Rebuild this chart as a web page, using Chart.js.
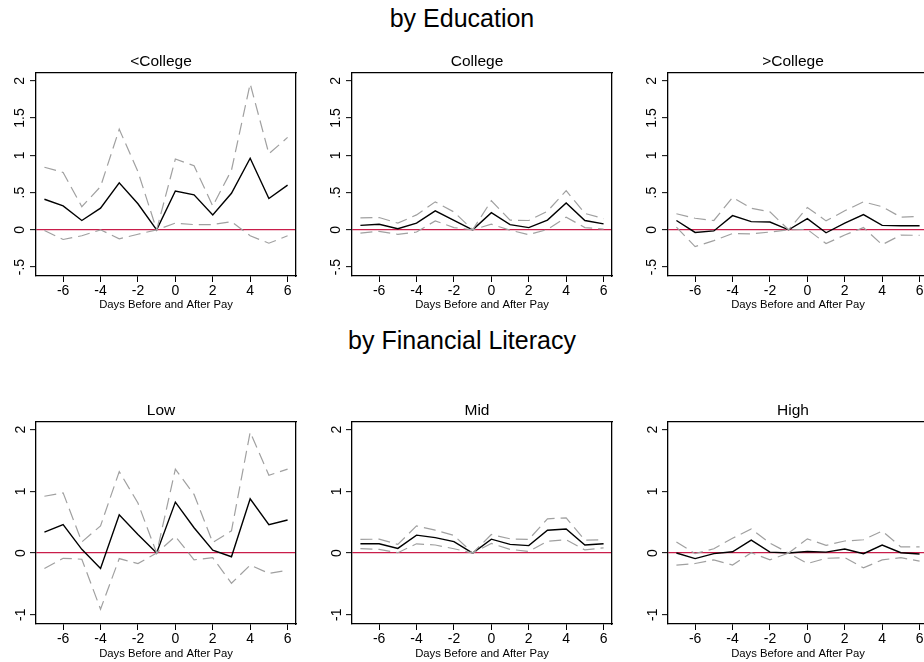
<!DOCTYPE html>
<html>
<head>
<meta charset="utf-8">
<script src="https://cdn.jsdelivr.net/npm/chart.js@4.4.1/dist/chart.umd.min.js"></script>
<style>
  html, body { margin: 0; padding: 0; background: #fff; overflow: hidden; width: 924px; height: 662px; }
  .sec { position: absolute; left: 0; width: 924px; text-align: center; font-family: 'Liberation Sans', Arial, sans-serif; font-size: 25px; line-height: 28px; color: #000; }
  canvas { position: absolute; }
</style>
</head>
<body>
<div class="sec" style="top:4px">by Education</div>
<div class="sec" style="top:326px">by Financial Literacy</div>
<canvas id="c1"></canvas>
<canvas id="c2"></canvas>
<canvas id="c3"></canvas>
<canvas id="c4"></canvas>
<canvas id="c5"></canvas>
<canvas id="c6"></canvas>
<script>
// ---- data ----
const days = [-7, -6, -5, -4, -3, -2, -1, 0, 1, 2, 3, 4, 5, 6];
const xTicks = [-6, -4, -2, 0, 2, 4, 6];
const xTickLabels = ['-6', '-4', '-2', '0', '2', '4', '6'];
const yTicksEdu = [-0.5, 0, 0.5, 1, 1.5, 2];
const yTickLabelsEdu = ['-.5', '0', '.5', '1', '1.5', '2'];
const yTicksLit = [-1, 0, 1, 2];
const yTickLabelsLit = ['-1', '0', '1', '2'];

// <College
const ltCollegeEst = [0.41, 0.32, 0.125, 0.29, 0.63, 0.35, 0, 0.52, 0.47, 0.2, 0.49, 0.96, 0.42, 0.60];
const ltCollegeHi  = [0.84, 0.77, 0.31, 0.58, 1.35, 0.78, 0, 0.95, 0.86, 0.32, 0.80, 1.96, 1.02, 1.24];
const ltCollegeLo  = [-0.01, -0.13, -0.08, 0.0, -0.12, -0.06, 0, 0.09, 0.07, 0.07, 0.11, -0.08, -0.18, -0.08];
// College
const collegeEst = [0.06, 0.075, 0.015, 0.09, 0.255, 0.125, 0, 0.23, 0.07, 0.03, 0.13, 0.36, 0.125, 0.08];
const collegeHi  = [0.16, 0.165, 0.09, 0.2, 0.375, 0.24, 0, 0.39, 0.13, 0.125, 0.25, 0.525, 0.22, 0.15];
const collegeLo  = [-0.045, -0.02, -0.06, -0.03, 0.12, 0.03, 0, 0.075, -0.005, -0.065, 0.005, 0.17, 0.03, 0.01];
// >College
const gtCollegeEst = [0.125, -0.035, -0.015, 0.19, 0.11, 0.105, 0, 0.15, -0.04, 0.09, 0.205, 0.06, 0.055, 0.055];
const gtCollegeHi  = [0.215, 0.155, 0.125, 0.435, 0.29, 0.24, 0, 0.30, 0.12, 0.255, 0.375, 0.31, 0.17, 0.18];
const gtCollegeLo  = [0.035, -0.225, -0.145, -0.05, -0.055, -0.03, 0, 0.005, -0.185, -0.07, 0.03, -0.2, -0.07, -0.075];
// Low
const lowEst = [0.34, 0.46, 0.06, -0.25, 0.62, 0.30, 0, 0.825, 0.41, 0.045, -0.06, 0.88, 0.46, 0.535];
const lowHi  = [0.92, 0.975, 0.18, 0.44, 1.32, 0.81, 0, 1.36, 0.95, 0.17, 0.36, 1.96, 1.26, 1.36];
const lowLo  = [-0.25, -0.085, -0.1, -0.91, -0.09, -0.17, 0, 0.27, -0.11, -0.075, -0.49, -0.195, -0.33, -0.28];
// Mid
const midEst = [0.15, 0.15, 0.075, 0.29, 0.25, 0.185, 0, 0.225, 0.14, 0.12, 0.37, 0.39, 0.13, 0.15];
const midHi  = [0.22, 0.225, 0.14, 0.44, 0.37, 0.285, 0, 0.30, 0.23, 0.22, 0.555, 0.57, 0.21, 0.215];
const midLo  = [0.07, 0.06, 0.005, 0.15, 0.13, 0.07, 0, 0.155, 0.06, 0.025, 0.19, 0.215, 0.05, 0.085];
// High
const highEst = [0, -0.09, -0.01, 0.02, 0.21, 0.015, 0, 0.025, 0.015, 0.065, -0.01, 0.13, 0.005, -0.015];
const highHi  = [0.18, -0.01, 0.07, 0.24, 0.39, 0.16, 0, 0.23, 0.125, 0.195, 0.215, 0.355, 0.10, 0.10];
const highLo  = [-0.195, -0.17, -0.11, -0.195, 0.005, -0.11, 0, -0.17, -0.085, -0.075, -0.24, -0.11, -0.075, -0.13];

// ---- drawing ----
Chart.defaults.font.family = "'Liberation Sans', Arial, sans-serif";
Chart.defaults.color = '#000';

const RED = '#c91d4a';
const GRAY = '#a0a0a0';

function pts(arr) { return days.map((d, i) => ({ x: d, y: arr[i] })); }

function makePanel(id, left, top, height, title, est, hi, lo, yTicks, yLabels, yMin, yMax, yPad, titlePadBottom) {
  const cv = document.getElementById(id);
  cv.width = 322; cv.height = height;
  cv.style.left = left + 'px'; cv.style.top = top + 'px';
  new Chart(cv, {
    type: 'line',
    data: {
      datasets: [
        { data: pts(hi), borderColor: GRAY, borderWidth: 1.2, borderDash: [12, 6], pointRadius: 0, fill: false, tension: 0 },
        { data: pts(lo), borderColor: GRAY, borderWidth: 1.2, borderDash: [12, 6], pointRadius: 0, fill: false, tension: 0 },
        { data: pts(est), borderColor: '#000', borderWidth: 1.4, pointRadius: 0, fill: false, tension: 0 }
      ]
    },
    options: {
      responsive: false, animation: false, devicePixelRatio: 1,
      layout: { padding: 0 },
      plugins: {
        legend: { display: false },
        tooltip: { enabled: false },
        title: { display: true, text: title, color: '#000', font: { size: 15.5, weight: 'normal' }, padding: { top: 0, bottom: 2 } }
      },
      scales: {
        x: {
          type: 'linear', position: 'bottom', min: -7.45, max: 6.45,
          afterBuildTicks: s => { s.ticks = xTicks.map(v => ({ value: v })); },
          afterFit: s => { s.height = 40; },
          ticks: { font: { size: 14 }, color: '#000', padding: 1, maxRotation: 0, autoSkip: false,
                   callback: (v) => xTickLabels[xTicks.indexOf(v)] },
          grid: { display: true, drawOnChartArea: false, drawTicks: true, tickLength: 6, tickColor: '#000', tickWidth: 1 },
          border: { display: true, color: '#000', width: 1.3 },
          title: { display: true, text: 'Days Before and After Pay', font: { size: 11.3 }, color: '#000', padding: { top: 0, bottom: titlePadBottom } }
        },
        y: {
          type: 'linear', position: 'left', min: yMin, max: yMax,
          afterBuildTicks: s => { s.ticks = yTicks.map(v => ({ value: v })); },
          afterFit: s => { s.width = 36; },
          ticks: { font: { size: 14 }, color: '#000', padding: yPad, minRotation: 90, maxRotation: 90, crossAlign: 'center', autoSkip: false,
                   callback: (v) => yLabels[yTicks.indexOf(v)] },
          grid: { display: true, drawOnChartArea: true, drawTicks: true, tickLength: 6, tickColor: '#000', tickWidth: 1,
                  color: c => (c.tick && c.tick.value === 0) ? RED : 'rgba(0,0,0,0)', lineWidth: 1.3 },
          border: { display: true, color: '#000', width: 1.3 }
        },
        x2: {
          type: 'linear', position: 'top', min: 0, max: 1,
          afterFit: s => { s.height = 0; },
          ticks: { display: false }, grid: { display: false },
          border: { display: true, color: '#000', width: 1.3 }
        },
        y2: {
          type: 'linear', position: 'right', min: 0, max: 1,
          afterFit: s => { s.width = 26; },
          ticks: { display: false }, grid: { display: false },
          border: { display: true, color: '#000', width: 1.3 }
        }
      }
    }
  });
}

makePanel('c1', 0,   52, 264, '<College', ltCollegeEst, ltCollegeHi, ltCollegeLo, yTicksEdu, yTickLabelsEdu, -0.62, 2.11, 0, 4.7);
makePanel('c2', 316, 52, 264, 'College',  collegeEst,   collegeHi,   collegeLo,   yTicksEdu, yTickLabelsEdu, -0.62, 2.11, 0, 4.7);
makePanel('c3', 632, 52, 264, '>College', gtCollegeEst, gtCollegeHi, gtCollegeLo, yTicksEdu, yTickLabelsEdu, -0.62, 2.11, 0, 4.7);
makePanel('c4', 0,   401, 263, 'Low',  lowEst,  lowHi,  lowLo,  yTicksLit, yTickLabelsLit, -1.15, 2.13, 3, 3.2);
makePanel('c5', 316, 401, 263, 'Mid',  midEst,  midHi,  midLo,  yTicksLit, yTickLabelsLit, -1.15, 2.13, 3, 3.2);
makePanel('c6', 632, 401, 263, 'High', highEst, highHi, highLo, yTicksLit, yTickLabelsLit, -1.15, 2.13, 3, 3.2);
</script>
</body>
</html>
